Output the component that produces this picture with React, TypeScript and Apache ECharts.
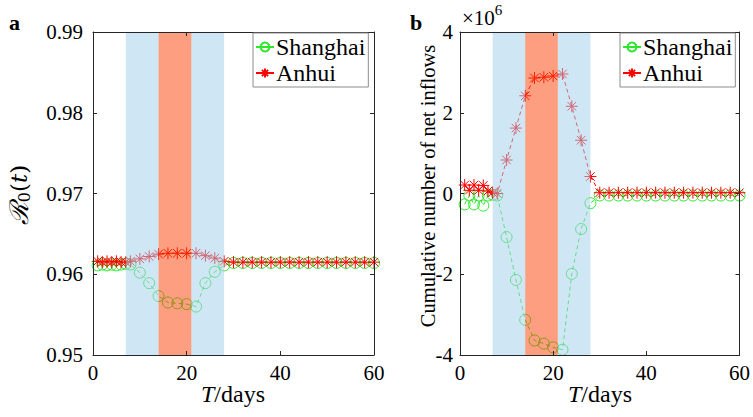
import React, { useEffect, useRef } from "react";
import * as echarts from "echarts";

// ---- data ----
const days = [1, 2, 3, 4, 5, 6, 7, 8, 10, 12, 14, 16, 18, 20, 22, 24, 26, 28, 30, 32, 34, 36, 38, 40, 42, 44, 46, 48, 50, 52, 54, 56, 58, 60];

const shanghaiR0 = [0.9611, 0.9612, 0.9611, 0.9612, 0.9611, 0.9612, 0.9613, 0.9612, 0.9602, 0.9589, 0.9573, 0.9565, 0.9564, 0.9563, 0.9560, 0.9589, 0.9603, 0.9611,
  0.9614, 0.9614, 0.9614, 0.9614, 0.9614, 0.9614, 0.9614, 0.9614, 0.9614, 0.9614, 0.9614, 0.9614, 0.9614, 0.9614, 0.9614, 0.9614];
const anhuiR0 = [0.9616, 0.9615, 0.9616, 0.9615, 0.9616, 0.9615, 0.9615, 0.9616, 0.9619, 0.9622, 0.9625, 0.9626, 0.9626, 0.9626, 0.9626, 0.9623, 0.9620, 0.9616,
  0.9615, 0.9615, 0.9615, 0.9615, 0.9615, 0.9615, 0.9615, 0.9615, 0.9615, 0.9615, 0.9615, 0.9615, 0.9615, 0.9615, 0.9615, 0.9615];

// cumulative net inflows, in units of 1e6
const shanghaiFlow = [-0.27, -0.05, -0.27, -0.05, -0.30, -0.05, -0.03, -0.05, -1.08, -2.14, -3.13, -3.64, -3.72, -3.81, -3.87, -1.99, -0.88, -0.24,
  -0.05, -0.05, -0.05, -0.05, -0.05, -0.05, -0.05, -0.05, -0.05, -0.05, -0.05, -0.05, -0.05, -0.05, -0.05, -0.05];
const anhuiFlow = [0.21, 0.08, 0.21, 0.08, 0.20, 0.06, 0.02, 0.00, 0.83, 1.62, 2.42, 2.86, 2.88, 2.91, 2.96, 2.16, 1.32, 0.42,
  0.02, 0.02, 0.02, 0.02, 0.02, 0.02, 0.02, 0.02, 0.02, 0.02, 0.02, 0.02, 0.02, 0.02, 0.02, 0.02];

const blueSpans = [[7, 14], [21, 28]];
const orangeSpans = [[14, 21]];

const xTicks = { min: 0, max: 60, interval: 20 };
const yTicksLeft = { min: 0.95, max: 0.99, interval: 0.01 };
const yTicksRight = { min: -4, max: 4, interval: 2 };

const seriesNames = ["Shanghai", "Anhui"];

// ---- style ----
const SERIF = "Liberation Serif";
const GREEN = "#2fe62f";
const RED = "#ff0000";
const AXIS = "#262626";
const STAR = "path://M0,-10L0,10M-10,0L10,0M-7.07,-7.07L7.07,7.07M-7.07,7.07L7.07,-7.07";

export default function App() {
  const ref = useRef<HTMLDivElement>(null);

  useEffect(() => {
    if (!ref.current) return;
    const chart = echarts.init(ref.current, null, { renderer: "svg" });

    const grids = [
      { left: 93, top: 32, width: 281, height: 323 },
      { left: 460, top: 32, width: 281, height: 323 },
    ];

    const mkX = (gi: number, pos: "bottom" | "top") => ({
      type: "value",
      gridIndex: gi,
      position: pos,
      min: xTicks.min,
      max: xTicks.max,
      interval: xTicks.interval,
      z: 10,
      axisLine: { show: true, onZero: false, lineStyle: { color: AXIS, width: 1 } },
      axisTick: { show: true, inside: true, length: 4, lineStyle: { color: AXIS } },
      axisLabel: {
        show: pos === "bottom",
        margin: 7,
        color: "#000",
        fontFamily: SERIF,
        fontSize: 21,
      },
      splitLine: { show: false },
    });

    const mkY = (gi: number, pos: "left" | "right", t: any, fmt: (v: number) => string, margin: number) => ({
      type: "value",
      gridIndex: gi,
      position: pos,
      min: t.min,
      max: t.max,
      interval: t.interval,
      z: 10,
      axisLine: { show: true, onZero: false, lineStyle: { color: AXIS, width: 1 } },
      axisTick: { show: true, inside: true, length: 4, lineStyle: { color: AXIS } },
      axisLabel: {
        show: pos === "left",
        margin,
        color: "#000",
        fontFamily: SERIF,
        fontSize: 21,
        formatter: fmt,
      },
      splitLine: { show: false },
    });

    const pairs = (ys: number[]) => days.map((d, i) => [d, ys[i]]);

    const lineSeries = (name: string, xi: number, yi: number, ys: number[], isStar: boolean) => ({
      type: "line",
      name,
      xAxisIndex: xi,
      yAxisIndex: yi,
      data: pairs(ys),
      symbol: isStar ? STAR : "circle",
      symbolSize: isStar ? 12 : 11,
      showSymbol: true,
      z: 2,
      lineStyle: { color: isStar ? RED : GREEN, width: 1, type: [4, 3] },
      itemStyle: {
        color: isStar ? RED : "rgba(0,0,0,0)",
        borderColor: isStar ? RED : GREEN,
        borderWidth: 1,
      },
    });

    const patchSeries = (xi: number, yi: number) => ({
      type: "line",
      name: "patch" + xi,
      xAxisIndex: xi,
      yAxisIndex: yi,
      data: [],
      z: 5,
      silent: true,
      markArea: {
        silent: true,
        z: 6,
        data: [
          ...blueSpans.map((s) => [
            { xAxis: s[0], itemStyle: { color: "rgba(160,208,236,0.5)" } },
            { xAxis: s[1] },
          ]),
          ...orangeSpans.map((s) => [
            { xAxis: s[0], itemStyle: { color: "rgba(250,62,0,0.5)" } },
            { xAxis: s[1] },
          ]),
        ],
      },
    });

    const legend = (left: number) => ({
      orient: "vertical",
      left,
      top: 33,
      data: seriesNames,
      itemWidth: 18,
      itemHeight: 11,
      itemGap: 2,
      padding: [2, 3, 2, 2],
      borderColor: "#8c8c8c",
      borderWidth: 1,
      backgroundColor: "#fff",
      lineStyle: { type: "solid" },
      textStyle: { fontFamily: SERIF, fontSize: 24, color: "#000", padding: [0, 0, 0, -3] },
      selectedMode: false,
      z: 20,
    });

    const option: any = {
      animation: false,
      backgroundColor: "#fff",
      textStyle: { fontFamily: SERIF },
      grid: grids,
      xAxis: [mkX(0, "bottom"), mkX(0, "top"), mkX(1, "bottom"), mkX(1, "top")],
      yAxis: [
        mkY(0, "left", yTicksLeft, (v: number) => v.toFixed(2), 10),
        mkY(0, "right", yTicksLeft, (v: number) => v.toFixed(2), 10),
        mkY(1, "left", yTicksRight, (v: number) => String(v), 7),
        mkY(1, "right", yTicksRight, (v: number) => String(v), 7),
      ],
      legend: [legend(253), legend(620)],
      series: [
        lineSeries("Shanghai", 0, 0, shanghaiR0, false),
        lineSeries("Anhui", 0, 0, anhuiR0, true),
        patchSeries(0, 0),
        lineSeries("Shanghai", 2, 2, shanghaiFlow, false),
        lineSeries("Anhui", 2, 2, anhuiFlow, true),
        patchSeries(2, 2),
      ],
      graphic: [
        { type: "text", left: 9, top: 11, style: { text: "a", fontFamily: SERIF, fontWeight: "bold", fontSize: 22, fill: "#000" } },
        { type: "text", left: 410, top: 11, style: { text: "b", fontFamily: SERIF, fontWeight: "bold", fontSize: 22, fill: "#000" } },
        {
          type: "text",
          x: 19,
          y: 195,
          rotation: Math.PI / 2,
          style: {
            text: "{r|ℛ}{s|0}{p|(}{i|t}{p|)}",
            align: "center",
            verticalAlign: "middle",
            rich: {
              r: { fontFamily: "DejaVu Serif", fontStyle: "italic", fontSize: 26, fill: "#000" },
              s: { fontFamily: "DejaVu Serif", fontSize: 16, fill: "#000", padding: [11, 0, 0, 0] },
              p: { fontFamily: "DejaVu Serif", fontSize: 23, fill: "#000" },
              i: { fontFamily: "DejaVu Serif", fontStyle: "italic", fontSize: 23, fill: "#000" },
            },
          },
        },
        {
          type: "text",
          x: 428,
          y: 186,
          rotation: Math.PI / 2,
          style: {
            text: "Cumulative number of net inflows",
            align: "center",
            verticalAlign: "middle",
            fontFamily: SERIF,
            fontSize: 20.5,
            fill: "#000",
          },
        },
        {
          type: "text",
          x: 233,
          y: 394,
          style: {
            text: "{i|T}{n|/days}",
            align: "center",
            verticalAlign: "middle",
            rich: {
              i: { fontFamily: SERIF, fontStyle: "italic", fontSize: 24, fill: "#000" },
              n: { fontFamily: SERIF, fontSize: 24, fill: "#000" },
            },
          },
        },
        {
          type: "text",
          x: 600,
          y: 394,
          style: {
            text: "{i|T}{n|/days}",
            align: "center",
            verticalAlign: "middle",
            rich: {
              i: { fontFamily: SERIF, fontStyle: "italic", fontSize: 24, fill: "#000" },
              n: { fontFamily: SERIF, fontSize: 24, fill: "#000" },
            },
          },
        },
        {
          type: "text",
          left: 462,
          top: 2,
          style: {
            text: "{a|×10}{b|6}",
            rich: {
              a: { fontFamily: SERIF, fontSize: 21, fill: "#000", padding: [8, 0, 0, 0] },
              b: { fontFamily: SERIF, fontSize: 15, fill: "#000", padding: [0, 0, 8, 0] },
            },
          },
        },
      ],
    };

    chart.setOption(option);
    return () => chart.dispose();
  }, []);

  return <div ref={ref} style={{ position: "fixed", left: 0, top: 0, width: 753, height: 417 }} />;
}
